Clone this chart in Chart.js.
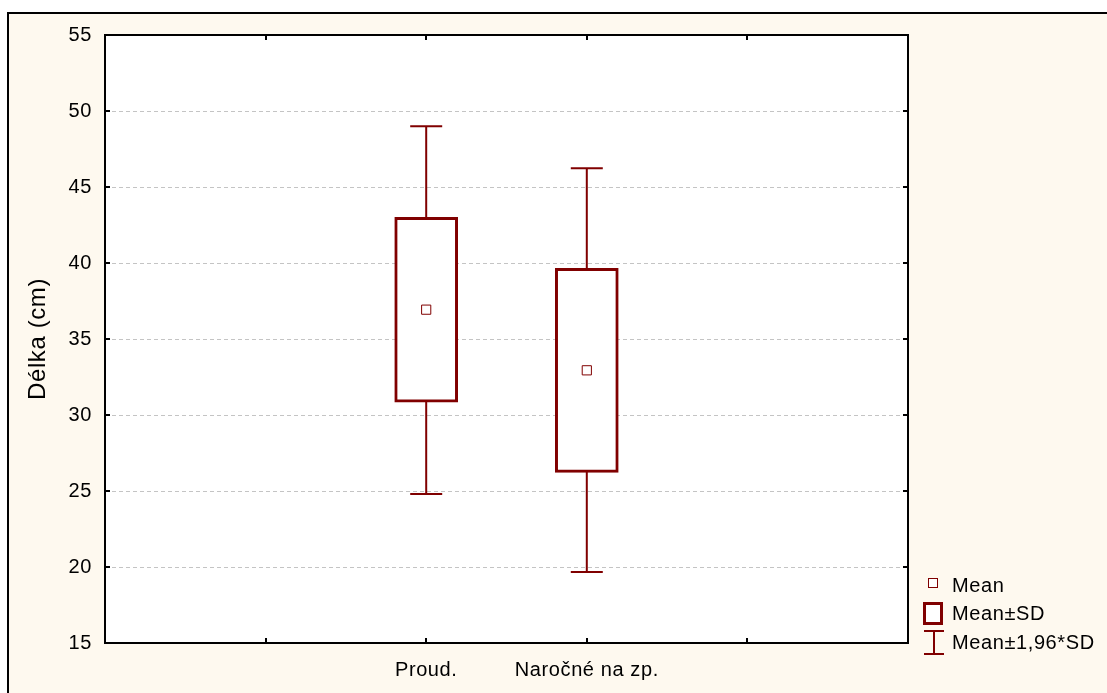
<!DOCTYPE html>
<html>
<head>
<meta charset="utf-8">
<script src="https://cdn.jsdelivr.net/npm/chart.js@4.4.1/dist/chart.umd.min.js"></script>
<style>
  body { margin: 0; background: #fff; width: 1107px; height: 693px; overflow: hidden; position: relative; font-family: "Liberation Sans", Arial, sans-serif; }
  .frame { position: absolute; left: 7px; top: 12px; width: 1120px; height: 700px; border-left: 2px solid #000; border-top: 2px solid #000; background: #fef9ef; }
  #chart { position: absolute; left: 0; top: 0; }
  .legend { position: absolute; left: 0; top: 0; }
  .legend .txt { position: absolute; left: 952px; font-size: 20px; line-height: 20px; letter-spacing: 0.6px; color: #000; white-space: nowrap; }
  .ico { position: absolute; box-sizing: border-box; }
</style>
</head>
<body>
<div class="frame"></div>
<canvas id="chart" width="1107" height="693"></canvas>
<div class="legend">
  <div class="ico" style="left:928px;top:578px;width:10px;height:10px;border:1px solid #800000;background:#fff;"></div>
  <div class="txt" style="top:575px;">Mean</div>
  <div class="ico" style="left:923px;top:602px;width:20px;height:23px;border:3px solid #800000;background:#fff;"></div>
  <div class="txt" style="top:603px;">Mean±SD</div>
  <div class="ico" style="left:924px;top:630px;width:20px;height:2px;background:#800000;"></div>
  <div class="ico" style="left:933px;top:630px;width:2px;height:25px;background:#800000;"></div>
  <div class="ico" style="left:924px;top:653px;width:20px;height:2px;background:#800000;"></div>
  <div class="txt" style="top:632px;">Mean±1,96*SD</div>
</div>
<script>
// categories sit on x positions 2 and 3 of a 0..5 axis
const categories = ['Proud.', 'Naročné na zp.'];
const catPos = [2, 3];
const means = [36.93, 32.94];
const sdLow = [30.85, 26.23];
const sdHigh = [43.0, 39.65];
const ciLow = [24.8, 19.67];
const ciHigh = [49.0, 46.23];
const yTicks = [15, 20, 25, 30, 35, 40, 45, 50, 55];

const dark = '#800000';
const fontFamily = '"Liberation Sans", Arial, sans-serif';

// whiskers: one line dataset per category, caps drawn as 'line' point style
const whiskerSets = categories.map((c, i) => ({
    type: 'line',
    label: 'whisker ' + c,
    data: [{ x: catPos[i], y: ciLow[i] }, { x: catPos[i], y: ciHigh[i] }],
    borderColor: dark,
    borderWidth: 2,
    pointStyle: 'line',
    pointRadius: 16,
    pointBorderWidth: 2,
    pointBorderColor: dark,
    order: 3
}));

// frame, white plot background and inward ticks
const framePlugin = {
    id: 'frame',
    beforeUpdate(chart) {
        chart.ctx.letterSpacing = '0.6px';
    },
    beforeDraw(chart) {
        const { ctx, chartArea: a } = chart;
        ctx.letterSpacing = '0.6px';
        ctx.save();
        ctx.fillStyle = '#fff';
        ctx.fillRect(a.left, a.top, a.right - a.left, a.bottom - a.top);
        ctx.restore();
    },
    afterDraw(chart) {
        const { ctx, chartArea: a, scales } = chart;
        ctx.save();
        ctx.strokeStyle = '#000';
        ctx.lineWidth = 2;
        ctx.strokeRect(a.left, a.top, a.right - a.left, a.bottom - a.top);
        ctx.beginPath();
        yTicks.forEach(v => {
            const y = Math.round(scales.y.getPixelForValue(v));
            ctx.moveTo(a.left, y); ctx.lineTo(a.left + 5, y);
            ctx.moveTo(a.right, y); ctx.lineTo(a.right - 5, y);
        });
        [1, 2, 3, 4].forEach(v => {
            const x = Math.round(scales.x.getPixelForValue(v));
            ctx.moveTo(x, a.top); ctx.lineTo(x, a.top + 5);
            ctx.moveTo(x, a.bottom); ctx.lineTo(x, a.bottom - 5);
        });
        ctx.stroke();
        ctx.restore();
    }
};

new Chart(document.getElementById('chart'), {
    type: 'bar',
    data: {
        datasets: [
            {
                type: 'scatter',
                label: 'Mean',
                data: categories.map((c, i) => ({ x: catPos[i], y: means[i] })),
                pointStyle: 'rect',
                pointRadius: 6.5,
                pointBorderWidth: 1,
                pointBorderColor: dark,
                pointBackgroundColor: '#fff',
                order: 1
            },
            {
                type: 'bar',
                label: 'Mean±SD',
                data: categories.map((c, i) => ({ x: catPos[i], y: [sdLow[i], sdHigh[i]] })),
                backgroundColor: '#fff',
                borderColor: dark,
                borderWidth: 3,
                borderSkipped: false,
                barThickness: 63,
                order: 2
            },
            ...whiskerSets
        ]
    },
    options: {
        responsive: false,
        animation: false,
        devicePixelRatio: 1,
        layout: { padding: { left: 10, right: 199, top: 35, bottom: 0 } },
        plugins: {
            legend: { display: false },
            tooltip: { enabled: false }
        },
        scales: {
            x: {
                type: 'linear',
                min: 0,
                max: 5,
                offset: false,
                afterFit(scale) { scale.height = 50; },
                ticks: {
                    stepSize: 1,
                    autoSkip: false,
                    maxRotation: 0,
                    color: '#000',
                    padding: 7,
                    font: { family: fontFamily, size: 20 },
                    callback: v => {
                        const i = catPos.indexOf(v);
                        return i >= 0 ? categories[i] : '';
                    }
                },
                grid: { display: false },
                border: { display: false }
            },
            y: {
                min: 15,
                max: 55,
                afterFit(scale) { scale.width = 95; },
                ticks: {
                    stepSize: 5,
                    color: '#000',
                    padding: 13,
                    font: { family: fontFamily, size: 20 }
                },
                grid: {
                    drawTicks: false,
                    lineWidth: 1,
                    color: ctx => (ctx.tick && (ctx.tick.value === 15 || ctx.tick.value === 55)) ? 'rgba(0,0,0,0)' : '#c4c4c4'
                },
                border: { display: false, dash: [4, 3] },
                title: {
                    display: true,
                    text: 'Délka (cm)',
                    color: '#000',
                    font: { family: fontFamily, size: 24 },
                    padding: { top: 14, bottom: 0 }
                }
            }
        }
    },
    plugins: [framePlugin]
});
</script>
</body>
</html>
